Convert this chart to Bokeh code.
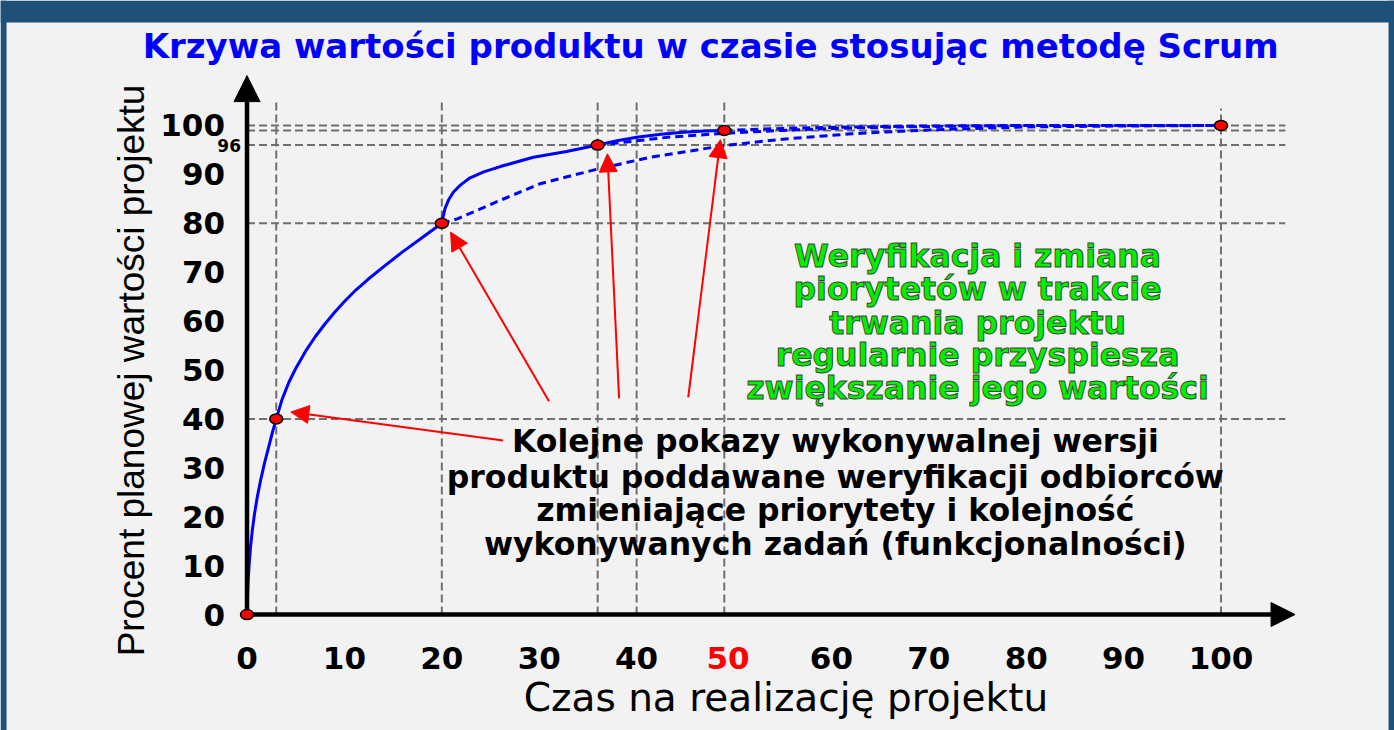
import math
from bokeh.plotting import figure
from bokeh.models import Range1d, FixedTicker, Label, Arrow, NormalHead, ColumnDataSource, Text, BoxAnnotation
from bokeh.core.properties import value
from bokeh.embed import file_html
from bokeh.resources import INLINE

# ---------------- data ----------------
x_ticks = [0, 10, 20, 30, 40, 50, 60, 70, 80, 90, 100]
y_ticks = [0, 10, 20, 30, 40, 50, 60, 70, 80, 90, 100]
highlight_tick = 50
extra_y_tick = 96

# actual Scrum value curve (solid)
solid_x = [0, 0.03, 0.12, 0.23, 0.36, 0.55, 0.77, 1.05, 1.39, 1.8, 2.24, 2.6, 3,
           3.6, 4.3, 5, 6, 7, 8, 9, 10, 11.2, 12.4, 14, 16, 18, 20,
           20.1, 20.34, 20.7, 21.2, 21.9, 22.9, 24.3, 26.0, 29.4, 32.8, 36,
           38, 40, 42.5, 44.8, 47, 49]
solid_y = [0, 3, 7, 10.5, 13.8, 17.3, 20.6, 24, 27.4, 31, 34.4, 37.2, 40,
           44, 47.5, 50.3, 53.8, 56.8, 59.4, 61.8, 64.0, 66.4, 68.5, 71.1, 74.2, 77.1, 80,
           81.1, 83.1, 84.8, 86.4, 87.8, 89.3, 90.5, 91.6, 93.5, 94.7, 96,
           96.9, 97.6, 98.2, 98.6, 98.85, 99]

# planned curves without re-prioritisation (dashed)
dash_a_x = [20, 21.6, 26, 30.1, 36, 41.4, 49, 55, 62, 70, 80, 90, 100]
dash_a_y = [80, 80.9, 84.7, 88.1, 91.1, 93.5, 95.9, 97.2, 98.3, 99.1, 99.7, 99.9, 100]
dash_b_x = [36, 38, 43.2, 49, 55, 62, 70, 80, 100]
dash_b_y = [96, 96.4, 97.6, 98.4, 99.0, 99.5, 99.8, 100, 100]
dash_c_x = [49, 55, 62, 70, 80, 100]
dash_c_y = [99, 99.4, 99.7, 99.9, 100, 100]

# milestone points (demos)
milestone_x = [0, 3, 20, 36, 49, 100]
milestone_y = [0, 40, 80, 96, 99, 100]

# reference guide lines
guide_v_x = [3, 20, 36, 40, 49, 100]
guide_v_top = [104.8, 104.8, 104.8, 104.8, 104.8, 103.5]
guide_h_y = [40, 80, 96, 99, 100]
guide_h_end = 106.6

# red annotation arrows
arrow_tail_x = [26.3, 31.0, 38.2, 45.3]
arrow_tail_y = [35.6, 43.6, 44.2, 44.4]
arrow_tip_x = [4.5, 20.9, 37.0, 48.6]
arrow_tip_y = [41.4, 78.2, 94.2, 97.1]

# texts
title_text = "Krzywa wartości produktu w czasie stosując metodę Scrum"
x_title = "Czas na realizację projektu"
y_title = "Procent planowej wartości projektu"
green_lines = ["Weryfikacja i zmiana", "piorytetów w trakcie", "trwania projektu",
               "regularnie przyspiesza", "zwiększanie jego wartości"]
green_y = [73.4, 66.5, 59.7, 53.0, 46.4]
green_x = 75.0
black_lines = ["Kolejne pokazy wykonywalnej wersji",
               "produktu poddawane weryfikacji odbiorców",
               "zmieniające priorytety i kolejność",
               "wykonywanych zadań (funkcjonalności)"]
black_y = [35.4, 28.2, 21.3, 14.5]
black_x = 60.4

# ---------------- styling / layout constants ----------------
PANEL = "#f2f2f2"
BAND = "#1f5078"
BLUE = "#0000ff"
RED = "#ff0000"
GRID = "#6f6f6f"
FONT = "DejaVu Sans"

X_RANGE = (-25.31, 117.81)
Y_RANGE = (-23.72, 125.56)
X_AXIS_BOUNDS = (0, 110.6)     # centres the x-axis title
Y_AXIS_BOUNDS = (-10.2, 110)   # centres the y-axis title
BAND_BOTTOM = 121.06
LEFT_EDGE = -24.69
RIGHT_EDGE = 117.2

p = figure(width=1394, height=730, toolbar_location=None, output_backend="svg",
           x_range=Range1d(*X_RANGE), y_range=Range1d(*Y_RANGE), min_border=0,
           background_fill_color=PANEL, border_fill_color=PANEL, outline_line_color=None)
p.grid.grid_line_color = None

for ax in (p.xaxis[0], p.yaxis[0]):
    ax.fixed_location = 0
    ax.axis_line_color = None
    ax.major_tick_line_color = None
    ax.minor_tick_line_color = None
    ax.major_tick_out = 0
    ax.major_tick_in = 0
    ax.major_label_text_font = FONT
    ax.major_label_text_font_style = "bold"
    ax.major_label_text_font_size = "31px"
    ax.major_label_text_color = "black"
    ax.axis_label_text_font_style = "normal"
    ax.axis_label_text_color = "black"

xa = p.xaxis[0]
xa.ticker = FixedTicker(ticks=x_ticks)
xa.major_label_overrides = {highlight_tick: ""}
xa.major_label_standoff = 32
xa.bounds = X_AXIS_BOUNDS
xa.axis_label = x_title
xa.axis_label_text_font = FONT
xa.axis_label_text_font_size = "39px"
xa.axis_label_standoff = 3

ya = p.yaxis[0]
ya.ticker = FixedTicker(ticks=y_ticks)
ya.major_label_standoff = 22
ya.bounds = Y_AXIS_BOUNDS
ya.axis_label = y_title
ya.axis_label_text_font = "Liberation Sans"
ya.axis_label_text_font_size = "37px"
ya.axis_label_standoff = 6

# frame decoration (dark blue border of the slide)
for kw in (dict(bottom=BAND_BOTTOM), dict(right=LEFT_EDGE), dict(left=RIGHT_EDGE)):
    p.add_layout(BoxAnnotation(fill_color=BAND, fill_alpha=1, line_color=None, **kw))

# guide lines
p.segment(x0=guide_v_x, y0=[0] * len(guide_v_x), x1=guide_v_x, y1=guide_v_top,
          line_color=GRID, line_width=2, line_dash="8 4")
p.segment(x0=[0] * len(guide_h_y), y0=guide_h_y, x1=[guide_h_end] * len(guide_h_y), y1=guide_h_y,
          line_color=GRID, line_width=2, line_dash="8 4")

# curves
for xs, ys in ((dash_a_x, dash_a_y), (dash_b_x, dash_b_y), (dash_c_x, dash_c_y)):
    p.line(xs, ys, line_color=BLUE, line_width=3, line_dash="8 5")
p.line(solid_x, solid_y, line_color=BLUE, line_width=3)

# axes with arrows
p.add_layout(Arrow(x_start=0, y_start=0, x_end=0, y_end=110.2, line_width=4.5, line_color="black",
                   end=NormalHead(size=26, fill_color="black", line_color="black")))
p.add_layout(Arrow(x_start=0, y_start=0, x_end=107.6, y_end=0, line_width=4.5, line_color="black",
                   end=NormalHead(size=24, fill_color="black", line_color="black")))

# milestone points
p.ellipse(x=milestone_x, y=milestone_y, width=13, height=10, width_units="screen",
          height_units="screen", fill_color=RED, line_color="black", line_width=1.5,
          level="overlay")

# red arrows
arr_src = ColumnDataSource(dict(x0=arrow_tail_x, y0=arrow_tail_y, x1=arrow_tip_x, y1=arrow_tip_y))
p.add_layout(Arrow(x_start="x0", y_start="y0", x_end="x1", y_end="y1", source=arr_src,
                   line_color=RED, line_width=2,
                   end=NormalHead(size=18, fill_color=RED, line_color=RED)))

# texts
green_kw = dict(text_font=value(FONT), text_font_style="bold", text_font_size="31.5px",
                text_color="#00f000", text_align="center", text_baseline="middle")
if "text_outline_color" in Text.properties():
    green_kw["text_outline_color"] = "#3a4a3a"
p.text(x=[green_x] * len(green_lines), y=green_y, text=green_lines, **green_kw)
p.text(x=[black_x] * len(black_lines), y=black_y, text=black_lines,
       text_font=value(FONT), text_font_style="bold", text_font_size="31.5px",
       text_color="black", text_align="center", text_baseline="middle")

# labels
p.add_layout(Label(x=0, y=extra_y_tick, x_offset=-6, text=str(extra_y_tick), text_align="right",
                   text_baseline="middle", text_font=FONT, text_font_style="bold",
                   text_font_size="17px", text_color="black"))
p.add_layout(Label(x=highlight_tick, y=0, x_offset=-6, y_offset=-32, text=str(highlight_tick),
                   text_align="center", text_baseline="top", text_font=FONT, text_font_style="bold",
                   text_font_size="31px", text_color=RED))
p.add_layout(Label(x=47.6, y=116.3, text=title_text, text_align="center", text_baseline="alphabetic",
                   text_font=FONT, text_font_style="bold", text_font_size="34px", text_color=BLUE))

open("out.html", "w").write(file_html(p, INLINE))
